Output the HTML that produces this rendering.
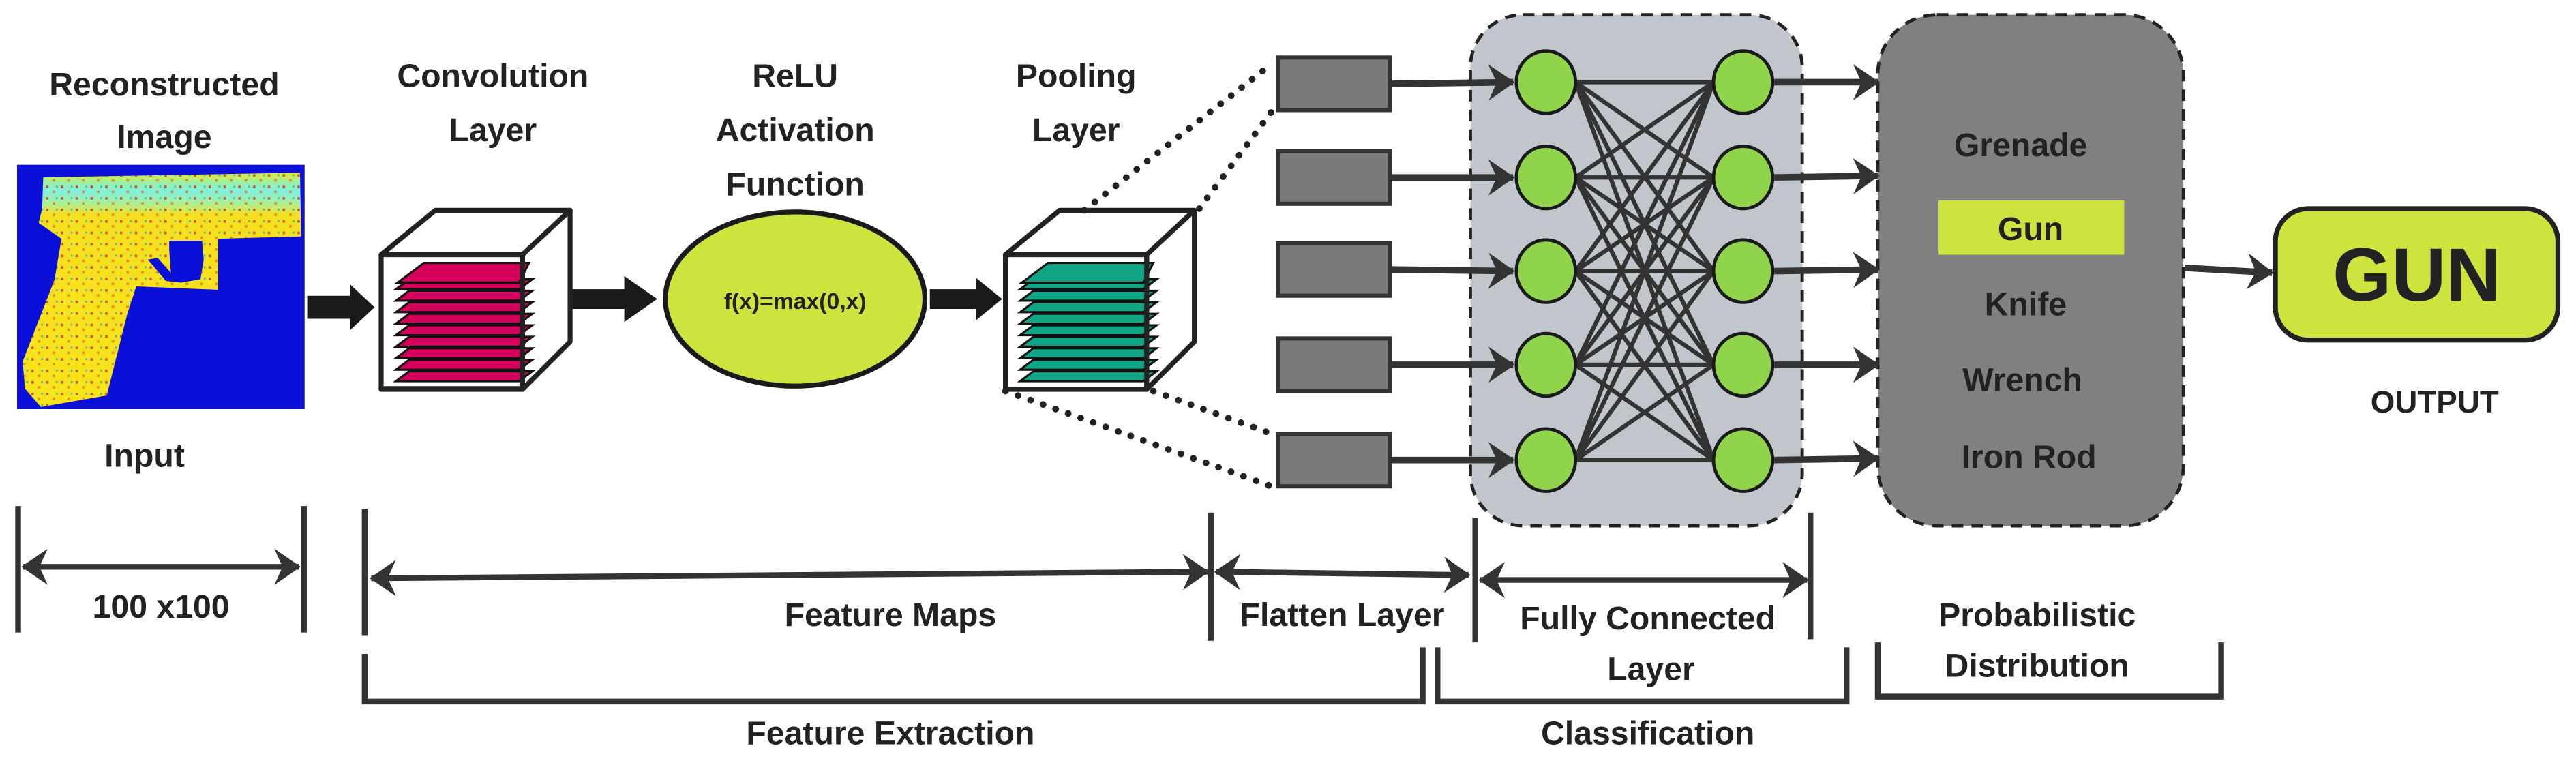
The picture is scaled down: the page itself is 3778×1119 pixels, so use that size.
<!DOCTYPE html>
<html><head><meta charset="utf-8"><style>
html,body{margin:0;padding:0;background:#fff}
svg{display:block}
text{font-family:"Liberation Sans Narrow","Liberation Sans",sans-serif;font-weight:bold;fill:#222;text-anchor:middle}
</style></head><body>
<svg width="3778" height="1119" viewBox="0 0 1568 464.4" preserveAspectRatio="none" xmlns="http://www.w3.org/2000/svg">
<defs>
<marker id="ah" viewBox="0 0 16 22" refX="15" refY="11" markerWidth="16" markerHeight="22" orient="auto" markerUnits="userSpaceOnUse"><path d="M0,0 L16,11 L0,22 L5,11 z" fill="#333"/></marker>
<marker id="as" viewBox="0 0 16 22" refX="1" refY="11" markerWidth="16" markerHeight="22" orient="auto" markerUnits="userSpaceOnUse"><path d="M16,0 L0,11 L16,22 L11,11 z" fill="#333"/></marker>
<pattern id="dots" width="9" height="7" patternUnits="userSpaceOnUse">
<rect x="1" y="1" width="1.5" height="1.5" fill="#c2321a"/><rect x="5" y="4" width="1.5" height="1.5" fill="#e07a10"/><rect x="7" y="1" width="1.2" height="1.2" fill="#3ab0a0"/>
</pattern>
<linearGradient id="gg" x1="0" y1="0" x2="0" y2="1"><stop offset="0" stop-color="#e8e830"/><stop offset="0.04" stop-color="#9ef0a0"/><stop offset="0.08" stop-color="#80f0e0"/><stop offset="0.13" stop-color="#a8f09a"/><stop offset="0.18" stop-color="#f5e020"/><stop offset="1" stop-color="#f8e41a"/></linearGradient>
</defs>

<g font-size="20">
<text x="100" y="58">Reconstructed</text><text x="100" y="90">Image</text>
<text x="300" y="53">Convolution</text><text x="300" y="86">Layer</text>
<text x="484" y="53">ReLU</text><text x="484" y="86">Activation</text><text x="484" y="119">Function</text>
<text x="655" y="53">Pooling</text><text x="655" y="86">Layer</text>
</g>

<rect x="10.4" y="100.3" width="175" height="148.7" fill="#0a10d8"/>
<polygon points="26.3,107.9 182.6,105.1 183.3,143.9 132.8,145.3 132.8,176.4 83,174.3 77.5,190.9 65,240.7 24.9,247.7 15.2,236.6 13.8,220 33.2,170.2 37.4,145.3 23.5,135.6 25.6,127.3" fill="url(#gg)"/>
<polygon points="26.3,107.9 182.6,105.1 183.3,143.9 132.8,145.3 132.8,176.4 83,174.3 77.5,190.9 65,240.7 24.9,247.7 15.2,236.6 13.8,220 33.2,170.2 37.4,145.3 23.5,135.6 25.6,127.3" fill="url(#dots)" opacity="0.8"/>
<polygon points="103,146.5 123,146.5 124,158 122,170 110,172 101,171 90,158 96,157 104,166 103,152" fill="#0a10d8"/>
<text x="88" y="284" font-size="20">Input</text>

<polygon points="187,180 213,180 213,173 228,187 213,201 213,194 187,194" fill="#1a1a1a"/>
<polygon points="335,176 380,176 380,168 400,182 380,196 380,188 335,188" fill="#1a1a1a"/>
<polygon points="566,176 594,176 594,169 610,182 594,195 594,188 566,188" fill="#1a1a1a"/>

<g stroke="#222" stroke-width="3" stroke-linejoin="round">
<polygon points="232,155 265,128 347,128 318,155" fill="#fff"/>
<polygon points="318,155 347,128 347,208 318,237" fill="#fff"/>
<rect x="232" y="155" width="86" height="82" fill="#fff"/>
</g>
<g stroke="#111" stroke-width="1.3" fill="#d4005c">
<polygon points="241,232 249,226 324,226 316,232"/><polygon points="241,225 249,219 324,219 316,225"/><polygon points="241,218 249,212 324,212 316,218"/><polygon points="241,211 249,205 324,205 316,211"/><polygon points="241,204 249,198 324,198 316,204"/><polygon points="241,197 249,191 324,191 316,197"/><polygon points="241,190 249,184 324,184 316,190"/><polygon points="241,183 249,177 324,177 316,183"/><polygon points="241,176 249,170 324,170 316,176"/><polygon points="242,172 258,160 322,160 316,172"/>
</g>
<line x1="318" y1="155" x2="318" y2="237" stroke="#222" stroke-width="3"/>
<rect x="232" y="235" width="86" height="3" fill="#222"/>

<ellipse cx="484" cy="182" rx="79" ry="53" fill="#cfe33e" stroke="#1a1a1a" stroke-width="3"/>
<text x="484" y="188" font-size="14">f(x)=max(0,x)</text>

<g stroke="#222" stroke-width="3" stroke-linejoin="round">
<polygon points="612,155 645,128 727,128 698,155" fill="#fff"/>
<polygon points="698,155 727,128 727,208 698,237" fill="#fff"/>
<rect x="612" y="155" width="86" height="82" fill="#fff"/>
</g>
<g stroke="#111" stroke-width="1.3" fill="#10a585">
<polygon points="621,232 629,226 704,226 696,232"/><polygon points="621,225 629,219 704,219 696,225"/><polygon points="621,218 629,212 704,212 696,218"/><polygon points="621,211 629,205 704,205 696,211"/><polygon points="621,204 629,198 704,198 696,204"/><polygon points="621,197 629,191 704,191 696,197"/><polygon points="621,190 629,184 704,184 696,190"/><polygon points="621,183 629,177 704,177 696,183"/><polygon points="621,176 629,170 704,170 696,176"/><polygon points="622,172 638,160 702,160 696,172"/>
</g>
<line x1="698" y1="155" x2="698" y2="237" stroke="#222" stroke-width="3"/>

<g stroke="#222" stroke-width="4" stroke-dasharray="0.1 8" stroke-linecap="round" fill="none">
<line x1="660" y1="128" x2="774" y2="39"/><line x1="730" y1="127" x2="774" y2="68"/>
<line x1="612" y1="238" x2="774" y2="296"/><line x1="702" y1="238" x2="774" y2="264"/>
</g>

<rect x="895" y="9" width="202" height="311" rx="32" fill="#c0c6cc" stroke="#222" stroke-width="2" stroke-dasharray="7 5"/>
<rect x="1143" y="9" width="186" height="311" rx="36" fill="#808080" stroke="#222" stroke-width="2" stroke-dasharray="7 5"/>

<g fill="#7a7a7a" stroke="#333" stroke-width="2.5">
<rect x="778" y="35" width="68" height="32"/><rect x="778" y="92" width="68" height="32"/><rect x="778" y="148" width="68" height="32"/><rect x="778" y="206" width="68" height="32"/><rect x="778" y="264" width="68" height="32"/>
</g>

<g stroke="#333" stroke-width="4" fill="none">
<line x1="847" y1="51" x2="921" y2="50" marker-end="url(#ah)"/><line x1="847" y1="108" x2="921" y2="108" marker-end="url(#ah)"/><line x1="847" y1="164" x2="921" y2="165" marker-end="url(#ah)"/><line x1="847" y1="222" x2="921" y2="222" marker-end="url(#ah)"/><line x1="847" y1="280" x2="921" y2="280" marker-end="url(#ah)"/>
<line x1="1080" y1="50" x2="1143" y2="50" marker-end="url(#ah)"/><line x1="1080" y1="108" x2="1143" y2="107" marker-end="url(#ah)"/><line x1="1080" y1="165" x2="1143" y2="164" marker-end="url(#ah)"/><line x1="1080" y1="222" x2="1143" y2="222" marker-end="url(#ah)"/><line x1="1080" y1="280" x2="1143" y2="279" marker-end="url(#ah)"/>
<line x1="1330" y1="163" x2="1383" y2="166" marker-end="url(#ah)"/>
</g>
<g stroke="#333" stroke-width="2.6" fill="none">
<path d="M959,50 L1043,50 M959,50 L1043,108 M959,50 L1043,165 M959,50 L1043,222 M959,50 L1043,280
M959,108 L1043,50 M959,108 L1043,108 M959,108 L1043,165 M959,108 L1043,222 M959,108 L1043,280
M959,165 L1043,50 M959,165 L1043,108 M959,165 L1043,165 M959,165 L1043,222 M959,165 L1043,280
M959,222 L1043,50 M959,222 L1043,108 M959,222 L1043,165 M959,222 L1043,222 M959,222 L1043,280
M959,280 L1043,50 M959,280 L1043,108 M959,280 L1043,165 M959,280 L1043,222 M959,280 L1043,280"/>
</g>
<g fill="#8fd44a" stroke="#1a1a1a" stroke-width="2">
<ellipse cx="941" cy="50" rx="18" ry="19"/><ellipse cx="941" cy="108" rx="18" ry="19"/><ellipse cx="941" cy="165" rx="18" ry="19"/><ellipse cx="941" cy="222" rx="18" ry="19"/><ellipse cx="941" cy="280" rx="18" ry="19"/>
<ellipse cx="1061" cy="50" rx="18" ry="19"/><ellipse cx="1061" cy="108" rx="18" ry="19"/><ellipse cx="1061" cy="165" rx="18" ry="19"/><ellipse cx="1061" cy="222" rx="18" ry="19"/><ellipse cx="1061" cy="280" rx="18" ry="19"/>
</g>

<rect x="1180" y="122" width="113" height="33" fill="#cfe33e"/>
<g font-size="20">
<text x="1230" y="95">Grenade</text><text x="1236" y="146">Gun</text><text x="1233" y="192">Knife</text><text x="1231" y="238">Wrench</text><text x="1235" y="285">Iron Rod</text>
</g>

<rect x="1385" y="127" width="172" height="80" rx="20" fill="#cfe33e" stroke="#222" stroke-width="3"/>
<text x="1471" y="183" font-size="46">GUN</text>
<text x="1482" y="251" font-size="19">OUTPUT</text>

<g stroke="#333" stroke-width="3.5" fill="none">
<line x1="11" y1="308" x2="11" y2="385"/><line x1="185" y1="308" x2="185" y2="385"/>
<line x1="222" y1="310" x2="222" y2="387"/><line x1="737" y1="312" x2="737" y2="390"/>
<line x1="898" y1="315" x2="898" y2="391"/><line x1="1102" y1="312" x2="1102" y2="389"/>
<line x1="14" y1="345" x2="182" y2="345" marker-start="url(#as)" marker-end="url(#ah)"/>
<line x1="226" y1="352" x2="735" y2="348" marker-start="url(#as)" marker-end="url(#ah)"/>
<line x1="740" y1="348" x2="894" y2="350" marker-start="url(#as)" marker-end="url(#ah)"/>
<line x1="901" y1="353" x2="1100" y2="353" marker-start="url(#as)" marker-end="url(#ah)"/>
<path d="M222,398 L222,427 L866,427 L866,394"/>
<path d="M875,394 L875,427 L1124,427 L1124,394"/>
<path d="M1143,391 L1143,424 L1352,424 L1352,391"/>
</g>
<g font-size="20">
<text x="98" y="376">100 x100</text>
<text x="542" y="381">Feature Maps</text>
<text x="817" y="381">Flatten Layer</text>
<text x="1003" y="383">Fully Connected</text><text x="1005" y="414">Layer</text>
<text x="1240" y="381">Probabilistic</text><text x="1240" y="412">Distribution</text>
<text x="542" y="453">Feature Extraction</text>
<text x="1003" y="453">Classification</text>
</g>
</svg>
</body></html>
